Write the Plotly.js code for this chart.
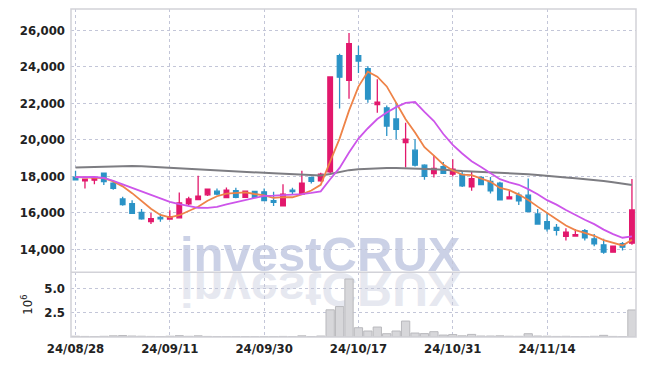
<!DOCTYPE html>
<html>
<head>
<meta charset="utf-8">
<script src="https://cdn.plot.ly/plotly-3.0.1.min.js"></script>
<style>
html,body{margin:0;padding:0;background:#fff;}
#chart{width:645px;height:366px;}
</style>
</head>
<body>
<div id="chart"></div>
<script>
const dates = ["24/08/28","24/08/29","24/08/30","24/09/02","24/09/03","24/09/04","24/09/05","24/09/06","24/09/09","24/09/10",
"24/09/11","24/09/12","24/09/13","24/09/19","24/09/20","24/09/23","24/09/24","24/09/25","24/09/26","24/09/27",
"24/09/30","24/10/02","24/10/04","24/10/07","24/10/08","24/10/10","24/10/11","24/10/14","24/10/15","24/10/16",
"24/10/17","24/10/18","24/10/21","24/10/22","24/10/23","24/10/24","24/10/25","24/10/28","24/10/29","24/10/30",
"24/10/31","24/11/01","24/11/04","24/11/05","24/11/06","24/11/07","24/11/08","24/11/11","24/11/12","24/11/13",
"24/11/14","24/11/15","24/11/18","24/11/19","24/11/20","24/11/21","24/11/22","24/11/25","24/11/26","24/11/27"];

const openP = [17950,17750,17780,18160,17620,16750,16500,16020,15510,15740,
15650,15720,16480,16720,16980,17180,16830,17200,16840,17160,
17140,16660,16380,17240,17020,17930,17740,18230,24600,23250,
24600,23880,21920,21740,21130,19840,19420,18600,18140,18520,
18110,18100,17420,17930,17710,17620,16760,16960,16960,15930,
15510,15200,14710,14720,15020,14570,14240,13840,14300,14330];
const highP = [18300,17850,17930,18200,17750,16870,16680,16200,15990,15950,
16140,17110,16870,18020,17300,17330,17380,17360,17200,17200,
17330,17150,17560,17360,18290,17950,18180,23430,24700,25830,
25140,24010,23300,21870,22020,20930,20020,18650,19160,18780,
18930,18300,18280,18000,17950,17700,17200,17110,17870,16200,
16020,15380,15150,15090,15110,14840,14570,14170,14400,17840];
const lowP = [17780,17330,17560,17510,17250,16380,15930,15620,15380,15500,
15620,15700,16420,16700,16910,16960,16800,16790,16820,16800,
16640,16360,16350,17000,17000,17600,17700,18150,21700,22240,
23650,22020,21470,20200,20020,18470,18530,17800,17930,18140,
17980,17400,17200,17500,17050,16700,16740,16420,16040,15350,
14970,14750,14480,14700,14480,14170,13750,13820,13930,14250];
const closeP = [17800,17830,17910,17700,17330,16440,15970,15660,15670,15660,
15780,16530,16750,16910,17290,17020,17240,16840,17180,16840,
16660,16560,17020,17150,17620,17710,18110,23430,23420,25250,
24300,22220,22050,20740,20560,20020,18600,17990,18430,18160,
18380,17470,17870,17540,17200,16710,16860,16650,16060,15380,
15110,15030,14930,14800,14620,14300,13840,14170,14110,16150];

// moving averages
const ma5 = [17950,17940,17930,17890,17714,17442,17070,16620,16214,15880,
15748,15860,16078,16326,16652,16900,17042,17060,17114,17024,
16952,16816,16852,16846,17002,17212,17522,18804,20058,21584,
22902,23724,23448,22912,21974,21118,20394,19582,19120,18640,
18312,18086,18062,17884,17692,17358,17236,16992,16696,16332,
16012,15646,15302,15050,14898,14736,14498,14346,14206,14512];
const ma10 = [17950,17960,17960,17900,17750,17550,17360,17180,17000,16797,
16595,16465,16349,16270,16266,16324,16451,16569,16720,16838,
16926,16929,16956,16980,17013,17082,17169,17828,18452,19293,
20057,20623,21126,21485,21779,22010,22059,21515,21016,20307,
19715,19240,18822,18502,18166,17835,17661,17527,17290,17012,
16685,16441,16147,15873,15615,15374,15072,14824,14629,14706];
const maLong = [18470,18490,18510,18530,18550,18560,18560,18540,18510,18480,
18440,18420,18400,18380,18350,18320,18290,18270,18240,18210,
18180,18160,18140,18110,18080,18050,18030,18120,18230,18330,
18380,18410,18430,18440,18440,18430,18410,18400,18380,18350,
18300,18280,18260,18240,18220,18190,18170,18140,18110,18060,
18000,17960,17920,17880,17840,17790,17730,17670,17600,17520];

// volume in millions
const volume = [0.08,0.06,0.05,0.07,0.12,0.15,0.10,0.08,0.06,0.05,
0.08,0.14,0.07,0.12,0.06,0.04,0.05,0.04,0.04,0.03,
0.04,0.05,0.06,0.03,0.12,0.04,0.10,2.81,3.15,6.0,
0.96,0.62,1.03,0.34,0.62,1.65,0.41,0.35,0.55,0.20,
0.25,0.12,0.27,0.10,0.10,0.12,0.08,0.07,0.34,0.10,
0.08,0.06,0.07,0.05,0.05,0.07,0.17,0.06,0.05,2.8];

const priceTicks = [14000,16000,18000,20000,22000,24000,26000];
const volTicks = [2.5,5.0];
const volTickText = ["2.5","5.0"];
const xTickIdx = [0,10,20,30,40,50];

const UP = '#e2186c', DOWN = '#2b93c6';
const volSplit = 0.1974;
const FAM = '"DejaVu Sans Condensed", "Liberation Sans Narrow", "DejaVu Sans", sans-serif';

const data = [
 {type:'bar', x:dates, y:volume, xaxis:'x', yaxis:'y2',
  marker:{color:'#d7d7da', line:{color:'#b9b9bd', width:1}}, hoverinfo:'skip'},
 {type:'scatter', mode:'lines', x:dates, y:maLong, line:{color:'#7d7d82', width:2}, hoverinfo:'skip'},
 {type:'candlestick', x:dates, open:openP, high:highP, low:lowP, close:closeP,
  increasing:{line:{color:UP, width:1.3}, fillcolor:UP},
  decreasing:{line:{color:DOWN, width:1.3}, fillcolor:DOWN},
  whiskerwidth:0, hoverinfo:'skip'},
 {type:'scatter', mode:'lines', x:dates, y:ma5, line:{color:'#ee8348', width:1.8}, hoverinfo:'skip'},
 {type:'scatter', mode:'lines', x:dates, y:ma10, line:{color:'#cd55ea', width:1.8}, hoverinfo:'skip'}
];

const tickFont = {family:FAM, size:13, color:'#222', weight:'bold'};
const gridCol = '#c3c6d8';

const layout = {
 width:645, height:366,
 margin:{l:71, r:9, t:9, b:29},
 paper_bgcolor:'#fff', plot_bgcolor:'#fff',
 showlegend:false,
 boxgap:0.3,
 bargap:0.12,
 xaxis:{type:'category', anchor:'y2', range:[-0.48, 59.43],
   rangeslider:{visible:false},
   tickvals:xTickIdx.map(i=>dates[i]), ticktext:xTickIdx.map(i=>dates[i]),
   tickfont:tickFont, ticks:'', showgrid:true, gridcolor:gridCol, griddash:'dot', gridwidth:1,
   showline:false, zeroline:false, ticklabelstandoff:2},
 yaxis:{domain:[volSplit,1], range:[12740,27150], tickvals:priceTicks, tickformat:',d',
   tickfont:tickFont, ticks:'', showgrid:true, gridcolor:gridCol, griddash:'dot', gridwidth:1,
   zeroline:false, showline:false, ticklabelstandoff:5},
 yaxis2:{domain:[0,volSplit], range:[0,6.7], tickvals:volTicks, ticktext:volTickText,
   tickfont:tickFont, ticks:'', showgrid:true, gridcolor:gridCol, griddash:'dot', gridwidth:1,
   zeroline:false, showline:false, ticklabelstandoff:5,
   title:{text:'10<sup>6</sup>', font:{family:FAM, size:13, color:'#222'}, standoff:8}},
 shapes:[
  {type:'rect', xref:'paper', yref:'paper', x0:0, x1:1, y0:0, y1:1, line:{color:'#d2d2d8', width:1.5}, layer:'above'},
  {type:'line', xref:'paper', yref:'paper', x0:0, x1:1, y0:volSplit, y1:volSplit, line:{color:'#d2d2d8', width:1.5}, layer:'above'}
 ],
 annotations:[
  {text:'investCRUX', xref:'paper', yref:'paper', x:0.442, y:volSplit, xanchor:'center', yanchor:'bottom',
   showarrow:false, yshift:-11, font:{family:'Liberation Sans', size:49, color:'#cbd1e6', weight:'bold'}},
  {text:'investCRUX', xref:'paper', yref:'paper', x:0.442, y:volSplit, xanchor:'center', yanchor:'top',
   showarrow:false, yshift:11, font:{family:'Liberation Sans', size:49, color:'#e6e8f0', weight:'bold'}}
 ]
};

Plotly.newPlot('chart', data, layout, {staticPlot:true, displayModeBar:false}).then(function(gd){
  const anns = gd.querySelectorAll('.annotation');
  if (anns.length > 1) {
    const t = anns[1].querySelector('text');
    const bb = t.getBBox();
    const cy = bb.y + bb.height/2;
    t.setAttribute('transform', 'translate(0,' + (2*cy) + ') scale(1,-1)');
  }
  const below = gd.querySelector('.layer-below .imagelayer') || gd.querySelector('.layer-below');
  if (below) anns.forEach(a => below.appendChild(a));
});
</script>
</body>
</html>
